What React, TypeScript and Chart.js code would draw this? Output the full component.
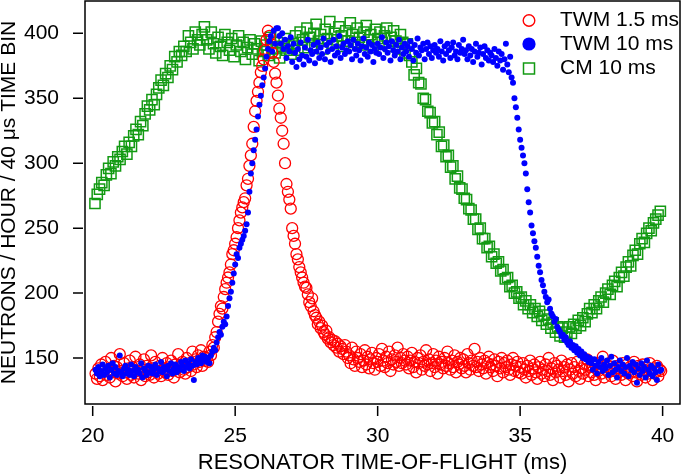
import React, { useEffect, useRef } from 'react';
import { Chart, registerables } from 'chart.js';

Chart.register(...registerables);

const FONT_FAMILY = "'Liberation Sans', Arial, Helvetica, sans-serif";

const seriesNames = ['TWM 1.5 ms', 'TWM 10 ms', 'CM 10 ms'];
const seriesColors = ['#ff0000', '#0000ff', '#139a13'];
const xTickValues = [20, 25, 30, 35, 40];
const yTickValues = [150, 200, 250, 300, 350, 400];
const xTitle = 'RESONATOR TIME-OF-FLIGHT (ms)';
const yTitle = 'NEUTRONS / HOUR / 40 \u03bcs TIME BIN';

// time-of-flight bin grids (ms)
const twmStartMs = 20.1;
const twmStepMs = 0.05;
const cmStartMs = 20.08;
const cmStepMs = 0.08;

// TWM 1.5 ms (red open circles)
const twm15Counts = [
  138,134,142,136,145,133,140,147,137,141,
  135,150,139,144,132,143,138,153,140,136,
  146,139,134,142,148,137,143,135,151,140,
  138,145,133,141,149,136,144,139,137,152,
  142,135,147,140,138,144,136,150,141,139,
  146,137,143,148,140,135,145,142,153,139,
  144,147,141,138,150,143,146,140,155,145,
  149,143,152,147,156,144,151,148,
  150,147,155,152,160,158,166,170,178,184,190,188,197,203,208,212,216,222,230,233,
  238,243,250,256,262,266,270,273,283,288,298,306,315,328,340,348,355,362,370,375,
  380,387,395,402,398,392,385,378,369,362,352,342,335,325,315,300,284,278,272,265,
  250,244,238,230,226,220,216,212,208,205,204,199,193,190,196,186,183,181,176,178,
  173,175,170,168,171,165,166,162,164,160,163,158,161,155,159,157,153,160,155,150,
  152,146,158,149,144,155,150,147,153,143,
  148,156,145,151,142,149,154,146,141,150,
  147,153,144,157,148,143,151,146,155,140,
  149,145,152,147,158,144,150,146,153,148,
  145,151,142,148,154,143,147,139,150,146,
  152,141,147,144,156,145,149,140,146,153,
  143,148,138,151,145,147,142,150,144,155,
  146,141,148,143,152,139,147,145,150,142,
  149,144,139,153,146,141,148,144,157,143,
  147,140,150,145,142,148,138,146,151,143,
  145,140,149,144,136,147,142,150,139,146,
  143,148,141,137,145,150,140,144,147,139,
  143,138,146,141,135,144,140,148,137,142,
  145,139,134,143,147,138,141,136,145,140,
  150,137,142,133,146,139,144,141,135,148,
  140,143,137,145,132,141,146,138,143,136,
  147,140,134,142,138,145,141,149,136,143,
  139,144,137,133,146,140,142,138,151,135,
  141,145,139,143,136,148,140,134,144,139,
  142,137,146,140,133,145,138,143,141,136,
  147,139,132,144,140,137,145,141,135,143,
  138,146,140,133,142,139,144,136,141,140,
];

// TWM 10 ms (blue filled dots)
const twm10Counts = [
  141,138,143,136,140,145,137,142,139,144,
  135,141,146,138,143,137,140,152,139,136,
  142,144,138,141,137,145,140,136,143,139,
  141,138,146,135,142,140,137,144,139,143,
  138,141,145,137,142,140,147,139,143,141,
  136,144,140,146,138,142,145,139,143,141,
  147,144,140,148,143,146,142,149,144,133,
  147,145,150,148,146,152,149,151,
  147,150,146,152,155,158,156,162,166,170,168,174,178,176,182,190,196,201,208,215,
  222,230,227,235,238,241,244,248,253,262,278,292,300,310,318,326,336,345,352,360,
  366,373,382,388,394,398,386,402,392,404,
  404,398,392,400,388,395,381,390,386,397,
  378,392,385,374,388,380,393,383,376,389,382,395,379,387,384,391,377,386,393,381,
  389,384,396,380,391,386,393,378,388,395,383,390,385,398,381,389,392,384,387,394,
  386,391,380,395,388,383,392,387,379,390,396,384,389,382,393,386,391,378,388,385,
  392,384,389,397,381,388,393,385,390,379,394,387,383,391,386,395,380,389,384,392,
  386,390,382,394,388,379,391,385,396,383,389,387,392,380,388,393,384,390,381,387,
  391,385,388,382,394,386,379,390,384,392,387,381,389,393,383,386,380,391,385,388,
  395,384,387,380,390,383,388,378,386,392,382,385,389,376,384,390,381,387,379,385,
  383,378,388,381,375,386,379,384,372,380,392,376,370,382,366,
  362,350,343,335,326,
  318,312,306,300,292,280,270,262,252,246,240,235,228,221,216,210,206,201,197,193,
  195,188,184,182,178,180,174,172,170,167,168,164,166,162,160,163,158,160,156,159,
  154,157,152,155,150,153,149,151,147,150,
  146,141,149,144,138,147,143,150,140,145,
  142,148,137,144,151,139,146,141,135,143,
  148,140,145,138,143,150,136,144,141,147,
  139,145,131,142,137,146,140,143,135,148,
  141,138,144,136,142,139,133,145,140,141,
];

// CM 10 ms (green open squares)
const cm10Counts = [
  269,276,280,285,283,291,296,292,301,298,305,303,
  309,313,307,316,313,321,326,322,332,329,338,344,
  341,349,345,353,358,364,360,369,366,375,372,382,378,
  386,383,390,386,398,393,388,401,395,391,399,405,
  395,388,401,392,385,397,390,383,399,393,
  387,396,382,391,398,386,393,380,389,395,
  384,392,388,379,394,386,391,383,397,388,
  385,393,381,390,396,387,392,384,
  392,398,387,401,395,389,404,397,391,400,
  407,394,399,388,403,396,409,392,400,395,
  405,398,390,402,394,408,399,393,404,397,
  391,401,406,395,399,389,403,396,401,393,
  398,404,390,397,402,394,388,399,393,385,
  392,383,
  378,368,373,362,361,350,349,340,339,331,
  332,322,324,313,314,305,306,297,298,288,
  290,281,280,273,272,265,264,257,257,249,
  250,242,242,235,236,228,230,223,224,217,
  218,211,212,205,206,200,201,196,197,191,
  194,188,191,185,188,182,186,179,183,176,
  180,173,177,170,174,167,173,
  166,170,174,169,176,173,179,175,181,178,184,188,185,191,188,194,197,193,
  200,203,199,206,209,205,212,216,213,220,224,221,229,
  233,230,238,242,239,246,250,248,254,257,260,263,
];

function toPoints(start: number, step: number, counts: number[]) {
  return counts.map((y, i) => ({ x: Math.round((start + i * step) * 1000) / 1000, y }));
}

const framePlugin = {
  id: 'frameTicksLegend',
  afterDraw(chart: any) {
    const { ctx, chartArea: a, scales } = chart;
    ctx.save();
    ctx.strokeStyle = '#000';
    ctx.lineWidth = 1.5;
    ctx.strokeRect(a.left, a.top, a.right - a.left, a.bottom - a.top);
    ctx.beginPath();
    for (const v of xTickValues) {
      const px = scales.x.getPixelForValue(v);
      ctx.moveTo(px, a.bottom + 2);
      ctx.lineTo(px, a.bottom + 12);
    }
    for (const v of yTickValues) {
      const py = scales.y.getPixelForValue(v);
      ctx.moveTo(a.left - 12, py);
      ctx.lineTo(a.left - 2, py);
    }
    ctx.stroke();

    // legend
    const mx = a.right - 151;
    const tx = a.right - 120;
    const rows = [a.top + 19.5, a.top + 43, a.top + 67.5];
    ctx.font = `21px ${FONT_FAMILY}`;
    ctx.textBaseline = 'middle';
    ctx.textAlign = 'left';
    ctx.beginPath();
    ctx.strokeStyle = seriesColors[0];
    ctx.lineWidth = 1.4;
    ctx.arc(mx, rows[0], 5.8, 0, Math.PI * 2);
    ctx.stroke();
    ctx.beginPath();
    ctx.fillStyle = seriesColors[1];
    ctx.arc(mx, rows[1], 6.6, 0, Math.PI * 2);
    ctx.fill();
    ctx.strokeStyle = seriesColors[2];
    ctx.lineWidth = 1.5;
    ctx.strokeRect(mx - 5.5, rows[2] - 5.5, 11, 11);
    ctx.fillStyle = '#000';
    seriesNames.forEach((name, i) => ctx.fillText(name, tx, rows[i]));
    ctx.restore();
  },
};

export default function App() {
  const canvasRef = useRef<HTMLCanvasElement | null>(null);

  useEffect(() => {
    const canvas = canvasRef.current;
    if (!canvas) return;
    const tickFont = { family: FONT_FAMILY, size: 21 };
    const chart = new Chart(canvas, {
      type: 'scatter',
      data: {
        datasets: [
          {
            label: seriesNames[0],
            data: toPoints(twmStartMs, twmStepMs, twm15Counts),
            pointStyle: 'circle',
            pointRadius: 5.5,
            pointBorderWidth: 1.3,
            pointBorderColor: seriesColors[0],
            pointBackgroundColor: 'rgba(0,0,0,0)',
            borderColor: seriesColors[0],
            backgroundColor: 'rgba(0,0,0,0)',
            showLine: false,
            order: 1,
          },
          {
            label: seriesNames[1],
            data: toPoints(twmStartMs, twmStepMs, twm10Counts),
            pointStyle: 'circle',
            pointRadius: 3,
            pointBorderWidth: 0,
            pointBorderColor: seriesColors[1],
            pointBackgroundColor: seriesColors[1],
            borderColor: seriesColors[1],
            backgroundColor: seriesColors[1],
            showLine: false,
            order: 0,
          },
          {
            label: seriesNames[2],
            data: toPoints(cmStartMs, cmStepMs, cm10Counts),
            pointStyle: 'rect',
            pointRadius: 7.2,
            pointBorderWidth: 1.5,
            pointBorderColor: seriesColors[2],
            pointBackgroundColor: 'rgba(0,0,0,0)',
            borderColor: seriesColors[2],
            backgroundColor: 'rgba(0,0,0,0)',
            showLine: false,
            order: 2,
          },
        ],
      },
      options: {
        animation: false,
        responsive: false,
        events: [],
        layout: { autoPadding: false, padding: { top: 1, right: 5, left: 0, bottom: 0 } },
        plugins: { legend: { display: false }, tooltip: { enabled: false } },
        scales: {
          x: {
            type: 'linear',
            min: 19.73,
            max: 40.61,
            afterBuildTicks: (s: any) => {
              s.ticks = xTickValues.map((value) => ({ value }));
            },
            afterFit: (s: any) => {
              s.height = 72;
              s.paddingLeft = 0;
              s.paddingRight = 0;
            },
            grid: { display: false },
            border: { display: false },
            ticks: { padding: 12, font: tickFont, color: '#000', maxRotation: 0, autoSkip: false },
            title: {
              display: true,
              text: xTitle,
              color: '#000',
              font: { family: FONT_FAMILY, size: 22 },
              padding: { top: 0, bottom: 0 },
            },
          },
          y: {
            type: 'linear',
            min: 114.6,
            max: 424.9,
            afterBuildTicks: (s: any) => {
              s.ticks = yTickValues.map((value) => ({ value }));
            },
            afterFit: (s: any) => {
              s.width = 85;
              s.paddingTop = 0;
              s.paddingBottom = 0;
            },
            grid: { display: false },
            border: { display: false },
            ticks: { padding: 18, font: tickFont, color: '#000', autoSkip: false },
            title: {
              display: true,
              text: yTitle,
              color: '#000',
              font: { family: FONT_FAMILY, size: 21, lineHeight: 0.9 },
              padding: { top: 0, bottom: 0 },
            },
          },
        },
      },
      plugins: [framePlugin],
    } as any);
    return () => chart.destroy();
  }, []);

  return (
    <div style={{ position: 'absolute', left: 0, top: 0, width: 685, height: 476, background: '#fff' }}>
      <canvas ref={canvasRef} width={685} height={476} style={{ display: 'block' }} />
    </div>
  );
}
